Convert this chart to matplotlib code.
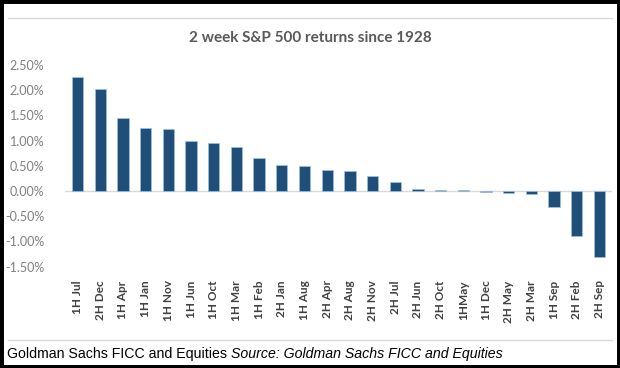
import matplotlib
matplotlib.use("Agg")
import matplotlib.pyplot as plt
from matplotlib.patches import Rectangle
from matplotlib.lines import Line2D
from matplotlib.ticker import FuncFormatter

periods = ["1H Jul", "2H Dec", "1H Apr", "1H Jan", "1H Nov", "1H Jun", "1H Oct",
           "1H Mar", "1H Feb", "2H Jan", "1H Aug", "2H Apr", "2H Aug", "2H Nov",
           "2H Jul", "2H Jun", "2H Oct", "1HMay", "1H Dec", "2H May", "2H Mar",
           "1H Sep", "2H Feb", "2H Sep"]
returns = [2.26, 2.02, 1.44, 1.25, 1.23, 1.00, 0.96, 0.88, 0.65, 0.52, 0.50,
           0.42, 0.39, 0.30, 0.18, 0.04, 0.02, 0.02, -0.01, -0.03, -0.05,
           -0.32, -0.89, -1.31]
y_ticks = [-1.5, -1.0, -0.5, 0.0, 0.5, 1.0, 1.5, 2.0, 2.5]

title = "2 week S&P 500 returns since 1928"
footer_plain = "Goldman Sachs FICC and Equities "
footer_italic = "Source: Goldman Sachs FICC and Equities"

fig = plt.figure(figsize=(6.2, 3.68), dpi=100)
ax = fig.add_axes([0.105, 1 - 266.6 / 368, 0.882, (266.6 - 65) / 368])

x = range(len(periods))
ax.bar(x, returns, width=0.5, color="#1f4e79", edgecolor="#9dc3e6", linewidth=0.5, zorder=3)
ax.axhline(0, color="#d9d9d9", linewidth=1, zorder=2)

ax.set_ylim(-1.5, 2.5)
ax.set_xlim(-0.55, 23.55)
ax.set_yticks(y_ticks)
ax.yaxis.set_major_formatter(FuncFormatter(lambda v, p: f"{v:.2f}%"))
ax.set_xticks(list(x))
ax.set_xticklabels(periods, rotation=90, fontweight="bold", fontsize=8.5,
                   color="#404040", family="Lato")
for lab in ax.get_yticklabels():
    lab.set_family("Lato")
    lab.set_fontsize(9)
    lab.set_color("#7f7f7f")
ax.tick_params(axis="both", length=0)
ax.tick_params(axis="x", pad=10)
ax.tick_params(axis="y", pad=15)
for s in ax.spines.values():
    s.set_visible(False)

fig.text(0.5, 1 - 38 / 368, title, ha="center", va="center", fontsize=11,
         fontweight="bold", color="#595959", family="Lato")

# grey separator lines and black frame
fig.add_artist(Line2D([8 / 620, 612 / 620], [1 - 18 / 368] * 2, color="#d9d9d9",
                      linewidth=1, transform=fig.transFigure))
fig.add_artist(Line2D([8 / 620, 612 / 620], [1 - 340 / 368] * 2, color="#d9d9d9",
                      linewidth=1, transform=fig.transFigure))
fig.add_artist(Rectangle((0, 0), 1, 1, transform=fig.transFigure, fill=False,
                         edgecolor="black", linewidth=5))

t1 = fig.text(7 / 620, 1 - 354 / 368, footer_plain, ha="left", va="center",
              fontsize=10.2, family="Liberation Sans", color="black")
renderer = fig.canvas.get_renderer()
bb = t1.get_window_extent(renderer=renderer)
fig.text(bb.x1 / fig.bbox.width, 1 - 354 / 368, footer_italic, ha="left", va="center",
         fontsize=10.2, family="Liberation Sans", style="italic", color="black")

fig.savefig("out.png", dpi=100)
